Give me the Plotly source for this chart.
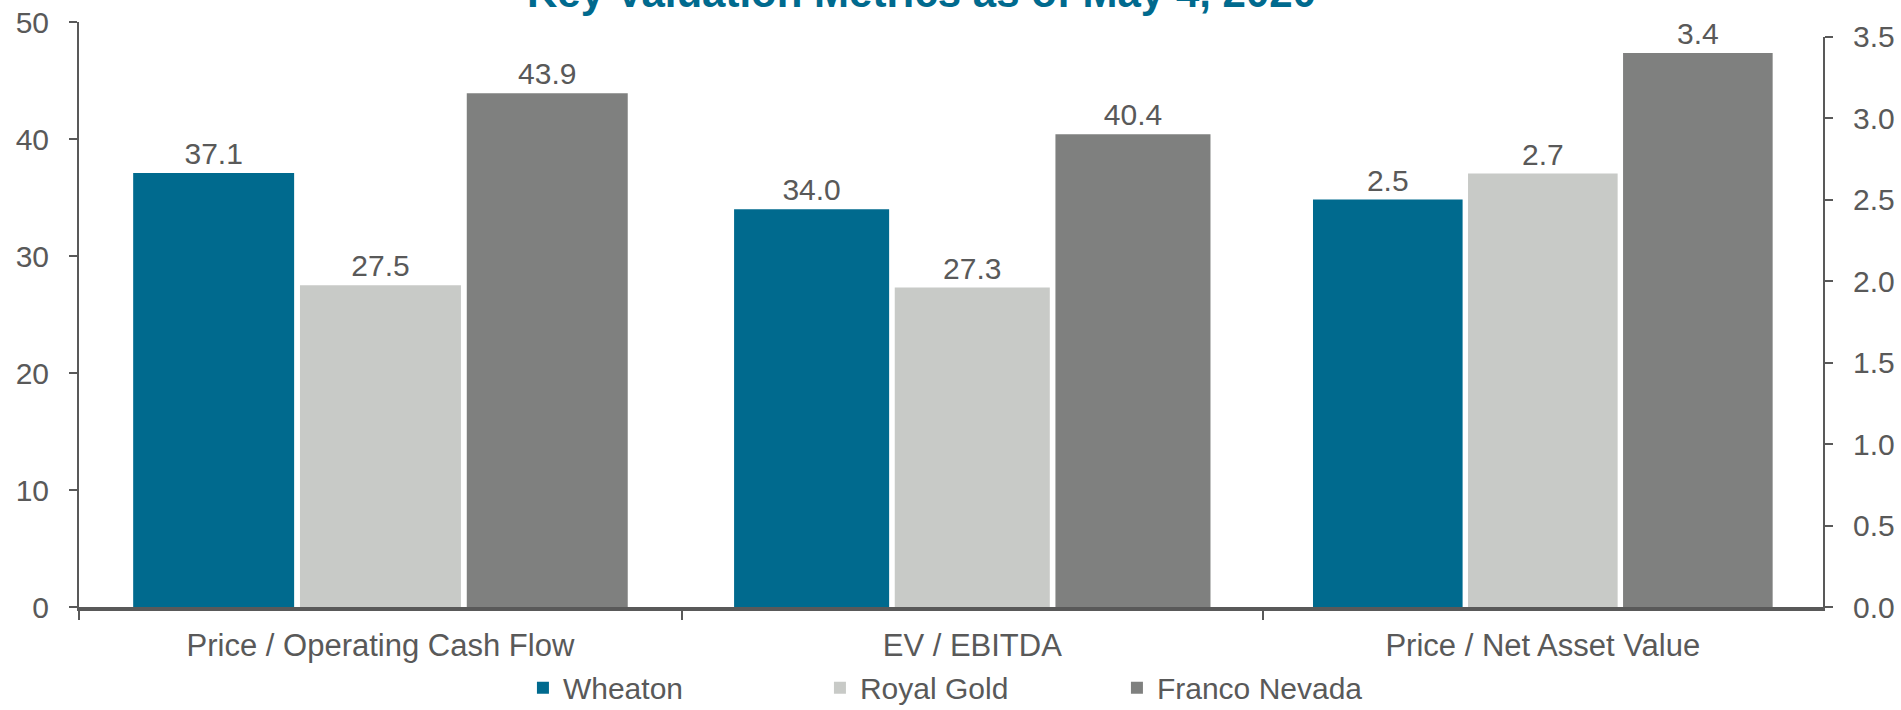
import plotly.graph_objects as go

# ---- data ----
categories = ["Price / Operating Cash Flow", "EV / EBITDA", "Price / Net Asset Value"]
series_names = ["Wheaton", "Royal Gold", "Franco Nevada"]
wheaton = [37.1, 34.0, 2.5]
royal_gold = [27.5, 27.3, 2.66]
franco_nevada = [43.9, 40.4, 3.4]
title_text = "Key Valuation Metrics as of May 4, 2020"

series_values = [wheaton, royal_gold, franco_nevada]
colors = ["#006A8E", "#C8CAC7", "#7F807F"]

FONT = "Arial, 'Liberation Sans', sans-serif"
GREY = "#595959"

# each category gets its own x axis (unequal widths in the original);
# the third one uses the secondary (right) y axis
x_ids = ["x", "x2", "x3"]
y_ids = ["y", "y", "y2"]

fig = go.Figure()
for ci, cat in enumerate(categories):
    for si, name in enumerate(series_names):
        fig.add_trace(go.Bar(
            x=[cat],
            y=[series_values[si][ci]],
            name=name,
            legendgroup=name,
            showlegend=(ci == 0),
            marker=dict(color=colors[si], line=dict(width=0)),
            texttemplate="%{y:.1f}",
            textposition="outside",
            textfont=dict(family=FONT, size=30, color=GREY),
            cliponaxis=False,
            xaxis=x_ids[ci],
            yaxis=y_ids[ci],
        ))

xcommon = dict(
    type="category",
    showline=True, linecolor=GREY, linewidth=4,
    ticks="outside", tickson="boundaries", ticklen=9, tickwidth=2, tickcolor=GREY,
    tickfont=dict(family=FONT, size=31, color=GREY),
    ticklabelstandoff=8,
    showgrid=False, zeroline=False, fixedrange=True,
)
ycommon = dict(
    showline=True, linecolor=GREY, linewidth=2,
    ticks="outside", ticklen=8, tickwidth=2, tickcolor=GREY,
    tickfont=dict(family=FONT, size=30, color=GREY),
    ticklabelstandoff=14,
    showgrid=False, zeroline=False, fixedrange=True,
)

fig.update_layout(
    width=1901, height=710,
    margin=dict(l=79, r=78, t=22, b=103, autoexpand=False),
    paper_bgcolor="white", plot_bgcolor="white",
    barmode="group", bargap=0.17, bargroupgap=0.035,
    font=dict(family=FONT, color=GREY),
    xaxis=dict(domain=[0, 0.3457], anchor="y", **xcommon),
    xaxis2=dict(domain=[0.3457, 0.6787], anchor="y", **xcommon),
    xaxis3=dict(domain=[0.6787, 1.0], anchor="y2", **xcommon),
    yaxis=dict(domain=[0, 1], anchor="x", range=[0, 50], dtick=10, side="left", **ycommon),
    yaxis2=dict(domain=[0, 0.975], anchor="x3", range=[0, 3.5], dtick=0.5,
                tickformat=".1f", side="right", **ycommon),
    legend=dict(
        orientation="h", x=0.51, xanchor="center", y=-0.138, yanchor="middle",
        font=dict(family=FONT, size=30, color=GREY),
        entrywidth=252, bgcolor="rgba(0,0,0,0)",
    ),
    showlegend=True,
    annotations=[dict(
        text="<b>" + title_text + "</b>",
        xref="paper", yref="paper", x=0.483, y=1.0502,
        xanchor="center", yanchor="middle", showarrow=False,
        font=dict(family=FONT, size=42, color="#006A8E"),
    )],
)

fig.write_html(
    "out.html",
    config={"displayModeBar": False},
    post_script="document.body.style.margin='0';document.body.style.overflow='hidden';",
)
